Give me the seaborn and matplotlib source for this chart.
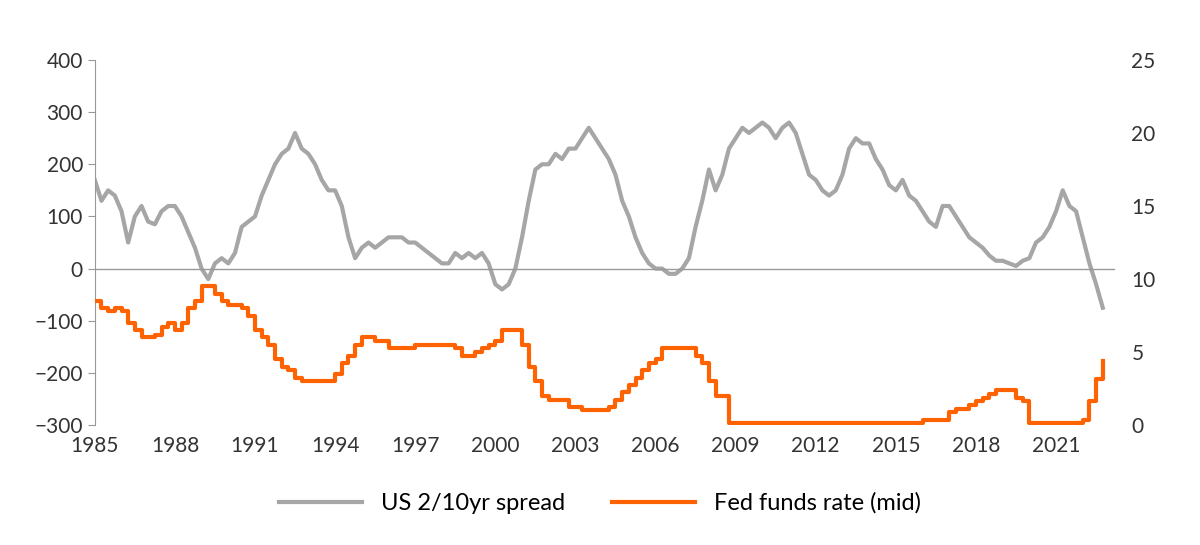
import numpy as np
import pandas as pd
import seaborn as sns
import matplotlib.pyplot as plt

# quarterly readings, starting 1985 Q1
spread = [170, 130, 150, 140, 110, 50, 100, 120, 90, 85, 110, 120, 120, 100, 70, 40,
          0, -20, 10, 20, 10, 30, 80, 90, 100, 140, 170, 200, 220, 230, 260, 230,
          220, 200, 170, 150, 150, 120, 60, 20, 40, 50, 40, 50, 60, 60, 60, 50,
          50, 40, 30, 20, 10, 10, 30, 20, 30, 20, 30, 10, -30, -40, -30, 0,
          60, 130, 190, 200, 200, 220, 210, 230, 230, 250, 270, 250, 230, 210, 180, 130,
          100, 60, 30, 10, 0, 0, -10, -10, 0, 20, 80, 130, 190, 150, 180, 230,
          250, 270, 260, 270, 280, 270, 250, 270, 280, 260, 220, 180, 170, 150, 140, 150,
          180, 230, 250, 240, 240, 210, 190, 160, 150, 170, 140, 130, 110, 90, 80, 120,
          120, 100, 80, 60, 50, 40, 25, 15, 15, 10, 5, 15, 20, 50, 60, 80,
          110, 150, 120, 110, 60, 10, -30, -75]
fed_funds = [8.5, 8, 7.8, 8, 7.8, 7, 6.5, 6, 6, 6.2, 6.7, 7, 6.5, 7, 8, 8.5,
             9.5, 9.5, 9, 8.5, 8.25, 8.25, 8, 7.5, 6.5, 6, 5.5, 4.5, 4, 3.8, 3.2, 3,
             3, 3, 3, 3, 3.5, 4.25, 4.75, 5.5, 6, 6, 5.75, 5.75, 5.25, 5.25, 5.25, 5.25,
             5.5, 5.5, 5.5, 5.5, 5.5, 5.5, 5.25, 4.75, 4.75, 5, 5.25, 5.5, 5.75, 6.5, 6.5, 6.5,
             5.5, 4, 3, 2, 1.75, 1.75, 1.75, 1.25, 1.25, 1, 1, 1, 1, 1.25, 1.75, 2.25,
             2.75, 3.25, 3.75, 4.25, 4.5, 5.25, 5.25, 5.25, 5.25, 5.25, 4.75, 4.25, 3, 2, 2, 0.125]
fed_funds += [0.125] * 28
fed_funds += [0.375] * 4 + [0.875, 1.125, 1.125, 1.375, 1.625, 1.875, 2.125, 2.375,
                            2.375, 2.375, 1.875, 1.625] + [0.125] * 8 + [0.375, 1.625, 3.125, 4.375]

df = pd.DataFrame({"date": 1985 + np.arange(len(spread)) / 4,
                   "spread": spread, "fed": fed_funds})

plt.rcParams['font.family'] = ['Lato', 'DejaVu Sans']
fig = plt.figure(figsize=(12, 5.45), dpi=100)
ax = fig.add_axes([0.079, 0.22, 0.85, 0.67])
ax2 = ax.twinx()

sns.lineplot(data=df, x="date", y="spread", ax=ax, color="#a6a6a6", lw=3, label="US 2/10yr spread", legend=False)
sns.lineplot(data=df, x="date", y="fed", ax=ax2, color="#ff6200", lw=3, drawstyle="steps-post",
             label="Fed funds rate (mid)", legend=False)

ax.set_ylim(-300, 400)
ax2.set_ylim(0, 25)
ax.set_xlim(1985, 2023.2)
ax.set_xticks(range(1985, 2022, 3))
ax.set_yticks(range(-300, 401, 100))
ax2.set_yticks(range(0, 26, 5))
ax.axhline(0, color="#999999", lw=1)
ax.set_xlabel("")
ax.set_ylabel("")
ax2.set_ylabel("")
for a in (ax, ax2):
    for s in ("top", "right", "bottom"):
        a.spines[s].set_visible(False)
    a.tick_params(labelsize=15, colors="#333333")
ax2.spines["left"].set_visible(False)
ax.spines["left"].set_color("#999999")
ax.tick_params(axis="x", length=0, pad=8)
ax2.tick_params(axis="y", length=0, pad=12)
ax.tick_params(axis="y", length=5, color="#999999")

h1, l1 = ax.get_legend_handles_labels()
h2, l2 = ax2.get_legend_handles_labels()
fig.legend(h1 + h2, l1 + l2, loc="center", bbox_to_anchor=(0.5, 0.077), ncol=2,
           frameon=False, fontsize=17, handlelength=3.5, columnspacing=2)

plt.savefig("out.png")
